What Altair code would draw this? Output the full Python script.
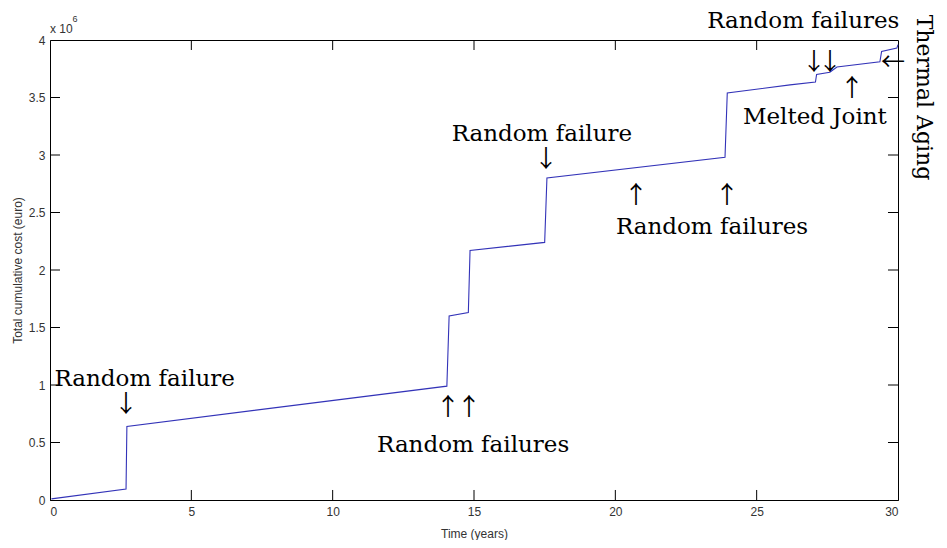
import altair as alt
import pandas as pd

# ---- data (values in units of 10^6 euro) ----
years = [0.05, 2.69, 2.72, 14.04, 14.12, 14.80, 14.86, 17.50, 17.58, 23.88, 23.96,
         26.18, 27.08, 27.12, 27.59, 27.84, 29.36, 29.42, 29.96, 30.0]
cost = [0.01, 0.096, 0.64, 0.99, 1.60, 1.63, 2.17, 2.24, 2.80, 2.98, 3.54,
        3.61, 3.635, 3.70, 3.72, 3.765, 3.81, 3.90, 3.93, 3.96]

x_ticks = [0, 5, 10, 15, 20, 25, 30]
y_ticks = [0, 0.5, 1, 1.5, 2, 2.5, 3, 3.5, 4]

ann_text = ["Random failure", "Random failures", "Random failure",
            "Random failures", "Random failures", "Melted Joint"]
ann_x = [3.35, 14.97, 17.40, 23.42, 26.65, 27.06]
ann_y = [1.05, 0.48, 3.18, 2.37, 4.165, 3.33]

arrow_char = ["↓", "↑", "↑", "↓", "↑", "↑", "↓", "↓", "↑", "←"]
arrow_x = [2.69, 14.08, 14.82, 17.55, 20.73, 23.95, 27.03, 27.59, 28.37, 29.82]
arrow_y = [0.825, 0.80, 0.80, 2.955, 2.64, 2.64, 3.80, 3.80, 3.57, 3.80]

side_text = ["Thermal Aging"]
side_x = [30.93]
side_y = [3.5]

line_df = pd.DataFrame({"t": years, "c": cost})
ann_df = pd.DataFrame({"label": ann_text, "t": ann_x, "c": ann_y})
arr_df = pd.DataFrame({"label": arrow_char, "t": arrow_x, "c": arrow_y})
side_df = pd.DataFrame({"label": side_text, "t": side_x, "c": side_y})

# inward tick marks (MATLAB style box)
tx_len = 0.087  # in y-units
ty_len = 0.354  # in x-units
rows = []
for v in x_ticks[1:-1]:
    rows.append({"x": v, "x2": v, "y": 0, "y2": tx_len})
    rows.append({"x": v, "x2": v, "y": 4, "y2": 4 - tx_len})
for v in y_ticks[1:-1]:
    rows.append({"x": 0, "x2": ty_len, "y": v, "y2": v})
    rows.append({"x": 30, "x2": 30 - ty_len, "y": v, "y2": v})
tick_df = pd.DataFrame(rows)

xs = alt.Scale(domain=[0, 30], nice=False, zero=False)
ys = alt.Scale(domain=[0, 4], nice=False, zero=False)

x_axis = alt.Axis(values=x_ticks, ticks=False, grid=False, labelFont="Liberation Sans",
                  labelFontSize=12, labelColor="#333", labelPadding=6,
                  title="Time (years)", titleFont="Liberation Sans", titleFontSize=12,
                  titleFontWeight="normal", titleColor="#333", titleY=33, titleBaseline="middle",
                  domainColor="black", labelExpr="'' + datum.value")
y_axis = alt.Axis(values=y_ticks, ticks=False, grid=False, labelFont="Liberation Sans",
                  labelFontSize=12, labelColor="#333", labelPadding=5,
                  title="Total cumulative cost (euro)", titleFont="Liberation Sans",
                  titleFontSize=12, titleFontWeight="normal", titleColor="#333",
                  titleX=-33, titleY=230, titleAngle=-90, titleAlign="center",
                  titleBaseline="middle",
                  domainColor="black", labelExpr="'' + datum.value")

line = alt.Chart(line_df).mark_line(color="#3333b8", strokeWidth=1.1).encode(
    x=alt.X("t:Q", scale=xs, axis=x_axis),
    y=alt.Y("c:Q", scale=ys, axis=y_axis),
)

ticks = alt.Chart(tick_df).mark_rule(color="black", strokeWidth=1).encode(
    x=alt.X("x:Q", scale=xs), x2="x2:Q",
    y=alt.Y("y:Q", scale=ys), y2="y2:Q",
)

ann = alt.Chart(ann_df).mark_text(font="DejaVu Serif", fontSize=23, color="black",
                                  align="center", baseline="middle").encode(
    x=alt.X("t:Q", scale=xs), y=alt.Y("c:Q", scale=ys), text="label:N")

arr = alt.Chart(arr_df).mark_text(font="Noto Sans CJK JP", fontSize=24, color="black",
                                  align="center", baseline="middle").encode(
    x=alt.X("t:Q", scale=xs), y=alt.Y("c:Q", scale=ys), text="label:N")

side = alt.Chart(side_df).mark_text(font="DejaVu Serif", fontSize=22, color="black",
                                    align="center", baseline="middle", angle=90).encode(
    x=alt.X("t:Q", scale=xs), y=alt.Y("c:Q", scale=ys), text="label:N")

exp_df = pd.DataFrame({"label": ["x 10"], "t": [0.0], "c": [4.10]})
sup_df = pd.DataFrame({"label": ["6"], "t": [0.8], "c": [4.18]})
exp_t = alt.Chart(exp_df).mark_text(font="Liberation Sans", fontSize=12, color="#333",
                                    align="left", baseline="middle").encode(
    x=alt.X("t:Q", scale=xs), y=alt.Y("c:Q", scale=ys), text="label:N")
sup_t = alt.Chart(sup_df).mark_text(font="Liberation Sans", fontSize=9, color="#333",
                                    align="left", baseline="middle").encode(
    x=alt.X("t:Q", scale=xs), y=alt.Y("c:Q", scale=ys), text="label:N")

chart = alt.layer(line, ticks, ann, arr, side, exp_t, sup_t).properties(
    width=848, height=460,
    autosize=alt.AutoSizeParams(type="none"),
    padding={"left": 42, "top": 32, "right": 40, "bottom": 40},
    background="white",
).configure_view(stroke="black", strokeWidth=1)

chart.save("out.html", embed_options={"renderer": "svg", "actions": False})
